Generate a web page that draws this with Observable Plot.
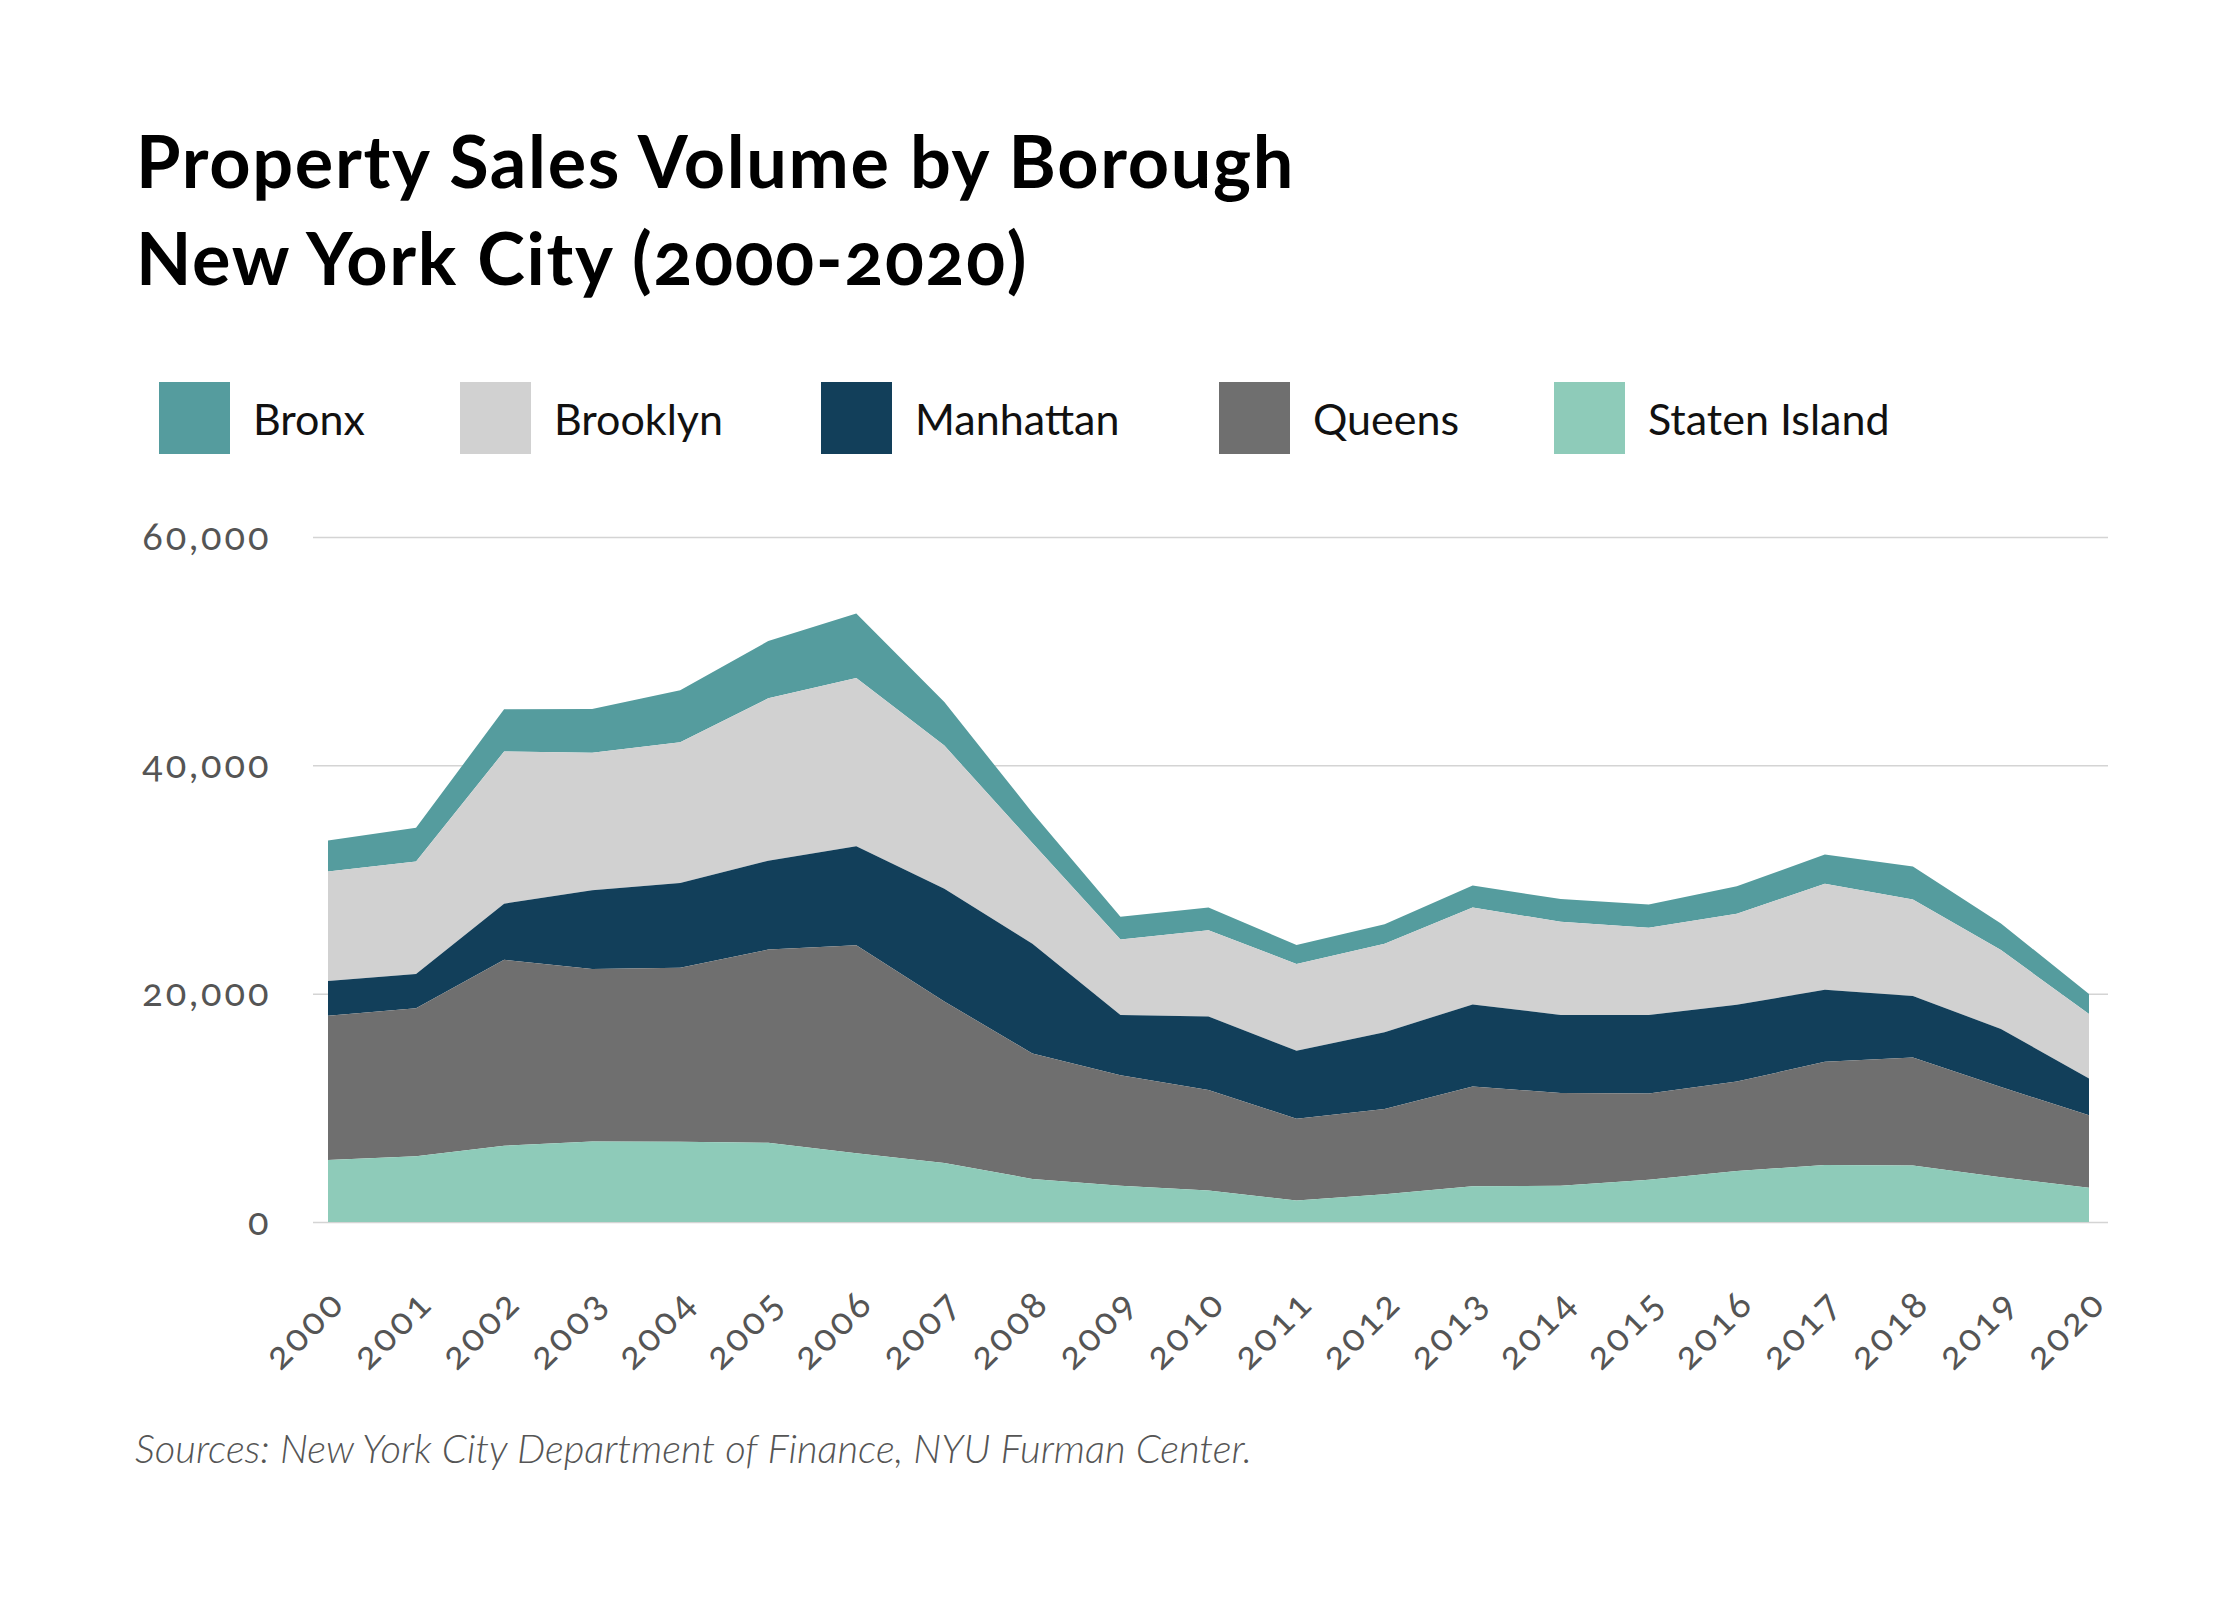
<!DOCTYPE html>
<html><head><meta charset="utf-8">
<script src="https://cdn.jsdelivr.net/npm/d3@7"></script>
<script src="https://cdn.jsdelivr.net/npm/@observablehq/plot@0.6"></script>
<style>
body{margin:0;background:#fff;width:2240px;height:1600px;position:relative;font-family:Lato,"Open Sans",sans-serif;}
#title{position:absolute;left:136px;top:112px;font-size:72px;font-weight:700;letter-spacing:1.7px;line-height:97px;color:#000;font-variant-numeric:oldstyle-nums;font-feature-settings:"onum" 1;}
#legend{position:absolute;left:0;top:382px;width:2240px;height:72px;}
.item{position:absolute;top:0;display:flex;align-items:center;height:72px;}
.sw{width:71px;height:72px;margin-right:23px;}
.lab{font-size:43px;color:#111;}
#chart{position:absolute;left:0;top:480px;}
#chart svg text{font-variant-numeric:oldstyle-nums;font-feature-settings:"onum" 1;letter-spacing:3px;}
#caption{position:absolute;left:135px;top:1424px;font-size:40px;line-height:48px;font-style:italic;font-weight:300;color:#555;}
</style></head>
<body>
<div id="title">Property Sales Volume by Borough<br>New York City (2000-2020)</div>
<div id="legend"></div>
<div id="chart"></div>
<div id="caption">Sources: New York City Department of Finance, NYU Furman Center.</div>
<script>
const years = [2000,2001,2002,2003,2004,2005,2006,2007,2008,2009,2010,2011,2012,2013,2014,2015,2016,2017,2018,2019,2020];
const boroughs = ["Bronx","Brooklyn","Manhattan","Queens","Staten Island"];
const colors = ["#559c9e","#d1d1d1","#123f5a","#6f6f6f","#8ecbb9"];
const stackOrder = ["Staten Island","Queens","Manhattan","Brooklyn","Bronx"];
const statenIsland = [5430,5760,6680,7050,7020,6940,6020,5170,3770,3180,2770,1880,2440,3140,3180,3690,4470,4990,4950,3920,2990];
const queens = [12630,12960,16290,15110,15250,16920,18210,14140,11000,9670,8790,7170,7460,8720,8120,7570,7830,9040,9450,7900,6350];
const manhattan = [3060,3000,4910,6900,7420,7790,8680,9870,9600,5280,6430,5940,6720,7200,6830,6870,6720,6320,5390,5090,3220];
const brooklyn = [9570,9860,13330,12040,12340,14220,14730,12550,8830,6610,7570,7610,7750,8490,8160,7650,7980,9270,8460,6910,5650];
const bronx = [2730,2950,3700,3840,4540,5020,5650,3810,2650,2000,1990,1660,1700,1920,2000,2030,2400,2580,2880,2330,1770];
const yTicks = [0,20000,40000,60000];
const legendLeft = [159,460,821,1219,1554];

const series = {"Bronx":bronx,"Brooklyn":brooklyn,"Manhattan":manhattan,"Queens":queens,"Staten Island":statenIsland};
const data = [];
for (const b of boroughs) years.forEach((yr,i)=>data.push({year:yr,borough:b,value:series[b][i]}));

const legend = document.getElementById("legend");
boroughs.forEach((b,i)=>{
  const it=document.createElement("div");it.className="item";it.style.left=legendLeft[i]+"px";
  it.innerHTML=`<div class="sw" style="background:${colors[i]}"></div><div class="lab">${b}</div>`;
  legend.appendChild(it);
});

const chart = Plot.plot({
  width:2240, height:900,
  marginTop:57, marginBottom:158, marginLeft:313, marginRight:132,
  x:{domain:[2000,2020], insetLeft:15, insetRight:19},
  y:{domain:[0,60000]},
  color:{domain:boroughs, range:colors},
  style:{fontFamily:"Lato, 'Open Sans', sans-serif", fontSize:"38px", color:"#555", background:"#fff"},
  marks:[
    Plot.ruleY(yTicks,{stroke:"#d4d4d4", strokeWidth:1.5}),
    Plot.areaY(data,{x:"year", y:"value", z:"borough", fill:"borough", order:stackOrder}),
    Plot.axisY({ticks:yTicks, tickSize:0, tickPadding:42, tickFormat:d3.format(","), label:null, fill:"#555", fontSize:38}),
    Plot.axisX({ticks:years, tickSize:0, tickPadding:74, tickRotate:-45, tickFormat:d=>String(d), label:null, dx:10, fill:"#555", fontSize:38})
  ]
});
document.getElementById("chart").appendChild(chart);
</script>
</body></html>
